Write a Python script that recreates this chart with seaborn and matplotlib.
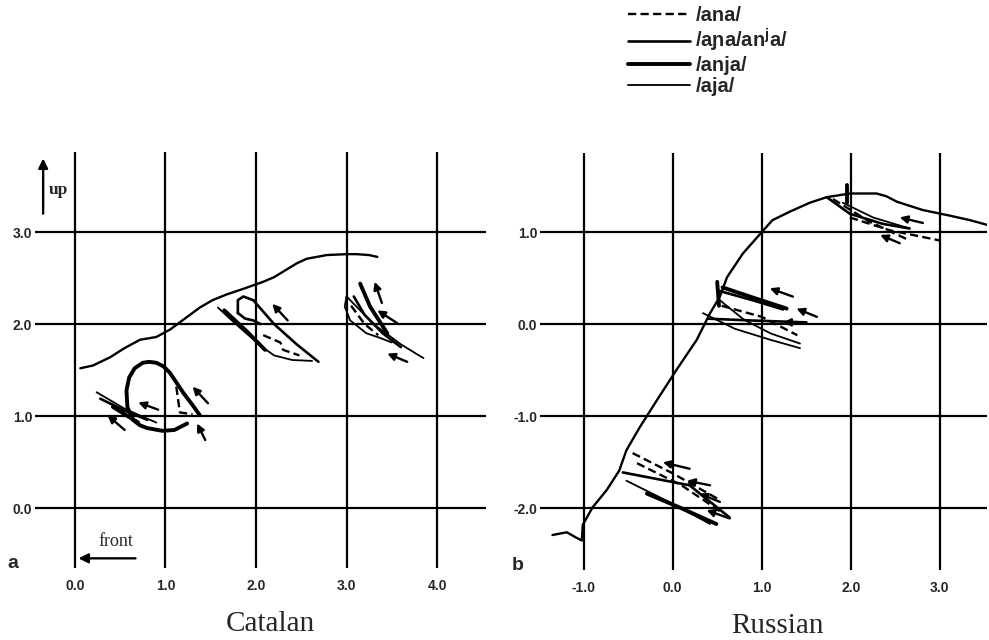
import matplotlib
matplotlib.use("Agg")
import matplotlib.pyplot as plt
import seaborn as sns
import numpy as np
from matplotlib.lines import Line2D

sns.set_style("white")
plt.rcParams['font.family'] = ['Liberation Sans', 'DejaVu Sans']
plt.rcParams['mathtext.fontset'] = 'custom'
plt.rcParams['mathtext.rm'] = 'Liberation Sans:bold'

# ---------------- data: Catalan (panel a) ----------------
cat_xticks = [0.0, 1.0, 2.0, 3.0, 4.0]
cat_yticks = [0.0, 1.0, 2.0, 3.0]

cat_main_x = [0.06, 0.20, 0.39, 0.55, 0.72, 0.90, 1.05, 1.16, 1.38, 1.52, 1.67, 1.88, 2.08, 2.20, 2.30, 2.45, 2.56, 2.78, 3.00, 3.11, 3.25, 3.34]
cat_main_y = [1.52, 1.55, 1.64, 1.74, 1.83, 1.86, 1.94, 2.02, 2.18, 2.26, 2.32, 2.39, 2.46, 2.51, 2.57, 2.66, 2.71, 2.75, 2.76, 2.76, 2.75, 2.73]

cat1_loop_x = [1.38, 1.30, 1.20, 1.05, 0.98, 0.90, 0.82, 0.75, 0.66, 0.60, 0.57, 0.58, 0.64, 0.72, 0.80, 0.97, 1.10, 1.16, 1.24]
cat1_loop_y = [1.01, 1.12, 1.25, 1.47, 1.54, 1.58, 1.59, 1.58, 1.52, 1.42, 1.28, 1.10, 0.96, 0.90, 0.87, 0.84, 0.85, 0.88, 0.92]
cat1_dash_x = [1.12, 1.14, 1.16, 1.30]
cat1_dash_y = [1.32, 1.18, 1.04, 1.02]
cat1_thin_x = [0.24, 0.55, 0.90]
cat1_thin_y = [1.26, 1.08, 0.93]
cat1_med_x = [0.28, 0.55, 0.80]
cat1_med_y = [1.19, 1.06, 0.96]
cat1_thick_x = [0.42, 0.70]
cat1_thick_y = [1.10, 0.93]

cat2_loop_x = [1.80, 1.80, 1.86, 1.97, 2.20, 2.45, 2.69]
cat2_loop_y = [2.12, 2.26, 2.30, 2.26, 2.00, 1.78, 1.59]
cat2_thin_x = [1.58, 1.80, 2.07, 2.20, 2.40, 2.62]
cat2_thin_y = [2.18, 1.98, 1.75, 1.66, 1.61, 1.60]
cat2_thick_x = [1.65, 1.90, 2.10]
cat2_thick_y = [2.15, 1.92, 1.72]
cat2_med_x = [1.80, 1.88, 1.97, 2.05]
cat2_med_y = [2.12, 2.06, 2.04, 2.00]
cat2_dash_x = [2.08, 2.27, 2.30, 2.48]
cat2_dash_y = [1.88, 1.80, 1.72, 1.66]

cat3_thin_x = [3.00, 3.30, 3.60, 3.85]
cat3_thin_y = [2.30, 2.00, 1.78, 1.63]
cat3_loop_x = [3.00, 2.98, 3.04, 3.22, 3.37, 3.50]
cat3_loop_y = [2.30, 2.19, 2.04, 1.90, 1.85, 1.80]
cat3_thick_x = [3.15, 3.26, 3.45]
cat3_thick_y = [2.44, 2.19, 1.90]
cat3_med_x = [3.08, 3.20, 3.40, 3.60]
cat3_med_y = [2.30, 2.10, 1.90, 1.75]
cat3_dash_x = [3.05, 3.20, 3.35]
cat3_dash_y = [2.20, 2.00, 1.88]

# arrows: tail x, tail y, head x, head y
cat_arrow_tx = [1.47, 0.92, 0.55, 1.44, 2.35, 3.39, 3.56, 3.67]
cat_arrow_ty = [1.14, 1.07, 0.85, 0.74, 2.04, 2.23, 2.01, 1.59]
cat_arrow_hx = [1.30, 0.70, 0.36, 1.35, 2.18, 3.31, 3.34, 3.45]
cat_arrow_hy = [1.32, 1.15, 1.01, 0.92, 2.22, 2.46, 2.15, 1.68]

# ---------------- data: Russian (panel b) ----------------
rus_xticks = [-1.0, 0.0, 1.0, 2.0, 3.0]
rus_yticks = [-2.0, -1.0, 0.0, 1.0]

rus_main_x = [-1.35, -1.19, -1.08, -1.02, -1.01, -0.90, -0.74, -0.60, -0.52, -0.37, -0.18,
              0.04, 0.27, 0.42, 0.53, 0.61, 0.79, 1.00, 1.12, 1.31, 1.54, 1.73, 1.99,
              2.29, 2.40, 2.52, 2.81, 3.11, 3.34, 3.53]
rus_main_y = [-2.29, -2.26, -2.32, -2.35, -2.18, -1.99, -1.80, -1.59, -1.37, -1.12, -0.83,
              -0.50, -0.17, 0.12, 0.30, 0.51, 0.77, 1.00, 1.13, 1.22, 1.32, 1.38, 1.42,
              1.42, 1.39, 1.33, 1.24, 1.18, 1.13, 1.08]

rus1_med_x = [1.73, 1.99, 2.36, 2.66]
rus1_med_y = [1.38, 1.20, 1.09, 1.04]
rus1_thin_x = [1.91, 2.25, 2.66]
rus1_thin_y = [1.32, 1.16, 1.04]
rus1_dash_x = [1.99, 2.44, 3.00]
rus1_dash_y = [1.16, 1.02, 0.91]
rus1_dash2_x = [1.80, 2.20, 2.66]
rus1_dash2_y = [1.36, 1.12, 0.91]
rus1_thick_x = [1.96, 1.96]
rus1_thick_y = [1.51, 1.32]

rus2_thick_x = [0.56, 0.90, 1.28]
rus2_thick_y = [0.40, 0.29, 0.17]
rus2_med_x = [0.53, 0.90, 1.24]
rus2_med_y = [0.36, 0.26, 0.16]
rus2_thin_x = [0.53, 0.80, 1.10, 1.43]
rus2_thin_y = [0.26, 0.05, -0.10, -0.21]
rus2_thin2_x = [0.34, 0.70, 1.10, 1.43]
rus2_thin2_y = [0.12, -0.05, -0.17, -0.26]
rus2_med2_x = [0.40, 0.90, 1.50]
rus2_med2_y = [0.06, 0.04, 0.02]
rus2_dash_x = [0.55, 1.00, 1.40]
rus2_dash_y = [0.20, 0.08, -0.12]
rus2_vert_x = [0.50, 0.52]
rus2_vert_y = [0.46, 0.20]

rus3_dash_x = [-0.45, 0.00, 0.53]
rus3_dash_y = [-1.40, -1.62, -1.91]
rus3_dash2_x = [-0.40, 0.10, 0.56]
rus3_dash2_y = [-1.51, -1.75, -2.05]
rus3_thin_x = [-0.52, 0.00, 0.42]
rus3_thin_y = [-1.70, -1.95, -2.17]
rus3_thick_x = [-0.29, 0.10, 0.49]
rus3_thick_y = [-1.84, -2.00, -2.17]
rus3_med_x = [-0.56, 0.19, 0.64]
rus3_med_y = [-1.61, -1.75, -2.10]

rus_arrow_tx = [2.81, 2.55, 1.35, 1.62, 1.50, 0.19, 0.42, 0.53, 0.64]
rus_arrow_ty = [1.10, 0.88, 0.30, 0.08, 0.02, -1.57, -1.75, -1.93, -2.11]
rus_arrow_hx = [2.55, 2.33, 1.09, 1.39, 1.24, -0.11, 0.16, 0.30, 0.38]
rus_arrow_hy = [1.16, 0.97, 0.39, 0.17, 0.02, -1.50, -1.70, -1.84, -2.02]

legend_labels = ["/ana/", "/aɲa/an$^{\\mathrm{j}}$a/", "/anja/", "/aja/"]

# ---------------- styles ----------------
STY = {
    "dash": dict(lw=1.7, linestyle=(0, (3.5, 1.8))),
    "med": dict(lw=1.9, linestyle="-"),
    "thick": dict(lw=2.8, linestyle="-"),
    "thin": dict(lw=1.3, linestyle="-"),
    "main": dict(lw=1.7, linestyle="-"),
}

fig = plt.figure(figsize=(9.89, 6.4), dpi=100)
axA = fig.add_axes([35/989, 1-568/640, (486-35)/989, (568-152)/640])
axB = fig.add_axes([540/989, 1-570/640, (987-540)/989, (570-153)/640])


def setup(ax, xticks, yticks, xlim, ylim):
    ax.set_xlim(*xlim)
    ax.set_ylim(*ylim)
    ax.set_xticks(xticks)
    ax.set_yticks(yticks)
    ax.set_xticklabels([f"{v:.1f}" for v in xticks])
    ax.set_yticklabels([f"{v:.1f}" for v in yticks])
    for s in ax.spines.values():
        s.set_visible(False)
    ax.grid(True, color="black", lw=1.6)
    ax.set_axisbelow(True)
    ax.tick_params(length=0, labelsize=10, pad=2)
    ax.tick_params(axis="x", pad=8)
    for t in ax.get_xticklabels() + ax.get_yticklabels():
        t.set_fontweight("bold")
    ax.set_xlabel("")
    ax.set_ylabel("")


def draw(ax, xs, ys, kind):
    sns.lineplot(x=xs, y=ys, sort=False, estimator=None, ax=ax, color="black",
                 **STY[kind])


def arrows(ax, tx, ty, hx, hy):
    for a, b, c, d in zip(tx, ty, hx, hy):
        ax.annotate("", xy=(c, d), xytext=(a, b),
                    arrowprops=dict(arrowstyle="-|>", color="black", lw=1.7,
                                    mutation_scale=11, shrinkA=0, shrinkB=0))

# panel a
for xs, ys, k in [
    (cat_main_x, cat_main_y, "main"),
    (cat1_loop_x, cat1_loop_y, "thick"), (cat1_dash_x, cat1_dash_y, "dash"),
    (cat1_thin_x, cat1_thin_y, "thin"), (cat1_med_x, cat1_med_y, "med"),
    (cat1_thick_x, cat1_thick_y, "thick"),
    (cat2_loop_x, cat2_loop_y, "med"), (cat2_thin_x, cat2_thin_y, "thin"),
    (cat2_thick_x, cat2_thick_y, "thick"), (cat2_med_x, cat2_med_y, "med"),
    (cat2_dash_x, cat2_dash_y, "dash"),
    (cat3_thin_x, cat3_thin_y, "thin"), (cat3_loop_x, cat3_loop_y, "thin"),
    (cat3_thick_x, cat3_thick_y, "thick"), (cat3_med_x, cat3_med_y, "med"),
    (cat3_dash_x, cat3_dash_y, "dash"),
]:
    draw(axA, xs, ys, k)
arrows(axA, cat_arrow_tx, cat_arrow_ty, cat_arrow_hx, cat_arrow_hy)
setup(axA, cat_xticks, cat_yticks, (-0.44, 4.54), (-0.65, 3.87))

# panel b
for xs, ys, k in [
    (rus_main_x, rus_main_y, "main"),
    (rus1_med_x, rus1_med_y, "med"), (rus1_thin_x, rus1_thin_y, "thin"),
    (rus1_dash_x, rus1_dash_y, "dash"), (rus1_dash2_x, rus1_dash2_y, "dash"),
    (rus1_thick_x, rus1_thick_y, "thick"),
    (rus2_thick_x, rus2_thick_y, "thick"), (rus2_med_x, rus2_med_y, "med"),
    (rus2_thin_x, rus2_thin_y, "thin"), (rus2_thin2_x, rus2_thin2_y, "thin"),
    (rus2_med2_x, rus2_med2_y, "med"), (rus2_dash_x, rus2_dash_y, "dash"),
    (rus2_vert_x, rus2_vert_y, "thick"),
    (rus3_dash_x, rus3_dash_y, "dash"), (rus3_dash2_x, rus3_dash2_y, "dash"),
    (rus3_thin_x, rus3_thin_y, "thin"), (rus3_thick_x, rus3_thick_y, "thick"),
    (rus3_med_x, rus3_med_y, "med"),
]:
    draw(axB, xs, ys, k)
arrows(axB, rus_arrow_tx, rus_arrow_ty, rus_arrow_hx, rus_arrow_hy)
setup(axB, rus_xticks, rus_yticks, (-1.49, 3.53), (-2.67, 1.86))

# direction indicators (panel a)
axA.annotate("", xy=(-0.35, 3.80), xytext=(-0.35, 3.20),
             arrowprops=dict(arrowstyle="-|>", color="black", lw=1.7,
                             mutation_scale=14, shrinkA=0, shrinkB=0),
             annotation_clip=False)
axA.text(-0.29, 3.46, "up", family="Liberation Serif", fontweight="bold",
         fontsize=12.5, ha="left", va="center")
axA.annotate("", xy=(0.04, -0.545), xytext=(0.67, -0.545),
             arrowprops=dict(arrowstyle="-|>", color="black", lw=1.7,
                             mutation_scale=14, shrinkA=0, shrinkB=0),
             annotation_clip=False)
axA.text(0.45, -0.36, "front", family="Liberation Serif", fontsize=13,
         ha="center", va="center")

# panel letters and titles
fig.text(7/989, 1-563/640, "a", fontweight="bold", fontsize=14, ha="left", va="center")
fig.text(512/989, 1-565/640, "b", fontweight="bold", fontsize=14, ha="left", va="center")
fig.text(270/989, 1-624/640, "Catalan", family="Liberation Serif", fontsize=21,
         ha="center", va="center")
fig.text(777/989, 1-626/640, "Russian", family="Liberation Serif", fontsize=21,
         ha="center", va="center")

# legend
handles = [Line2D([], [], color="black", **STY["dash"]),
           Line2D([], [], color="black", **STY["med"]),
           Line2D([], [], color="black", **STY["thick"]),
           Line2D([], [], color="black", **STY["thin"])]
fig.legend(handles, legend_labels, loc="upper left",
           bbox_to_anchor=(626/989, 1 - 4/640), frameon=False,
           prop=dict(size=14.5, weight="bold"),
           handlelength=3.1, handletextpad=0.25, labelspacing=0.1,
           borderaxespad=0, borderpad=0.1)

fig.savefig("out.png", dpi=100)
